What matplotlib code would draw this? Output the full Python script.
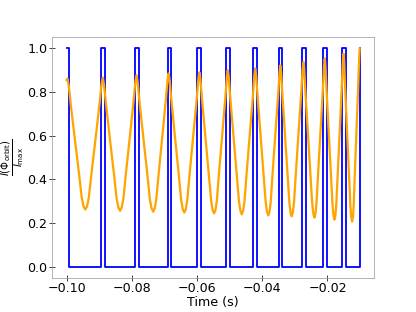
import matplotlib
matplotlib.use('Agg')
import matplotlib.pyplot as plt

# pulse (high state) edges, ms
pulse_on_ms = [-100.00, -89.54, -78.89, -68.92, -59.91, -51.08, -42.77, -34.98, -27.82, -21.23, -15.51]
pulse_off_ms = [-99.20, -88.31, -77.85, -67.91, -58.77, -49.91, -41.54, -33.85, -26.68, -20.22, -14.46]
last_rise_ms = -10.10

# normalised intensity curve
orbit_t_ms = [
    -100.00, -99.75, -99.37, -98.77, -97.56, -96.33, -95.37, -94.83,
    -94.28, -93.74, -93.21, -92.27, -91.06, -89.89, -89.30,
    -88.92, -88.55, -87.96, -86.79, -85.60, -84.66, -84.13,
    -83.60, -83.10, -82.60, -81.72, -80.59, -79.48, -78.93,
    -78.58, -78.22, -77.66, -76.53, -75.37, -74.48, -73.96,
    -73.45, -72.98, -72.51, -71.68, -70.62, -69.59, -69.07,
    -68.74, -68.40, -67.87, -66.81, -65.72, -64.88, -64.39,
    -63.91, -63.45, -62.99, -62.18, -61.14, -60.12, -59.61,
    -59.29, -58.97, -58.48, -57.48, -56.47, -55.67, -55.22,
    -54.77, -54.35, -53.93, -53.20, -52.26, -51.33, -50.87,
    -50.58, -50.28, -49.81, -48.86, -47.89, -47.14, -46.71,
    -46.28, -45.87, -45.45, -44.73, -43.80, -42.89, -42.44,
    -42.15, -41.87, -41.43, -40.55, -39.65, -38.95, -38.55,
    -38.15, -37.78, -37.41, -36.77, -35.94, -35.12, -34.72,
    -34.46, -34.22, -33.83, -33.07, -32.29, -31.68, -31.33,
    -30.98, -30.62, -30.26, -29.63, -28.82, -28.03, -27.63,
    -27.38, -27.14, -26.77, -26.03, -25.27, -24.68, -24.34,
    -24.00, -23.68, -23.37, -22.81, -22.10, -21.40, -21.05,
    -20.83, -20.62, -20.29, -19.64, -18.97, -18.45, -18.15,
    -17.85, -17.57, -17.30, -16.81, -16.19, -15.58, -15.27,
    -15.08, -14.89, -14.60, -14.02, -13.42, -12.96, -12.70,
    -12.43, -12.20, -11.96, -11.56, -11.03, -10.52, -10.26,
    -10.10,
]
orbit_I = [
    0.855, 0.861, 0.831, 0.746, 0.593, 0.442, 0.316, 0.277,
    0.262, 0.277, 0.316, 0.443, 0.596, 0.750, 0.836,
    0.866, 0.836, 0.749, 0.593, 0.439, 0.311, 0.271,
    0.256, 0.272, 0.312, 0.442, 0.599, 0.758, 0.846,
    0.877, 0.846, 0.757, 0.598, 0.440, 0.308, 0.268,
    0.252, 0.268, 0.309, 0.442, 0.602, 0.763, 0.853,
    0.885, 0.853, 0.763, 0.600, 0.439, 0.305, 0.264,
    0.248, 0.264, 0.306, 0.441, 0.603, 0.767, 0.858,
    0.890, 0.858, 0.766, 0.601, 0.438, 0.302, 0.260,
    0.244, 0.260, 0.303, 0.441, 0.607, 0.774, 0.867,
    0.900, 0.867, 0.773, 0.605, 0.438, 0.299, 0.257,
    0.240, 0.257, 0.300, 0.440, 0.609, 0.780, 0.875,
    0.908, 0.874, 0.779, 0.607, 0.437, 0.296, 0.252,
    0.235, 0.252, 0.297, 0.441, 0.615, 0.790, 0.888,
    0.922, 0.887, 0.789, 0.613, 0.438, 0.293, 0.248,
    0.231, 0.249, 0.295, 0.443, 0.622, 0.802, 0.903,
    0.938, 0.902, 0.801, 0.619, 0.439, 0.289, 0.243,
    0.225, 0.243, 0.291, 0.444, 0.628, 0.814, 0.918,
    0.954, 0.917, 0.812, 0.624, 0.437, 0.282, 0.234,
    0.216, 0.235, 0.284, 0.444, 0.636, 0.830, 0.938,
    0.976, 0.938, 0.828, 0.632, 0.438, 0.276, 0.226,
    0.207, 0.227, 0.278, 0.445, 0.646, 0.848, 0.960,
    1.000,
]

# square wave from the pulse edges
sq_t, sq_y = [], []
for on, off in zip(pulse_on_ms, pulse_off_ms):
    sq_t += [on, on, off, off]
    sq_y += [0, 1, 1, 0]
sq_t = sq_t[1:] + [last_rise_ms, last_rise_ms]
sq_y = sq_y[1:] + [0, 1]

fig, ax = plt.subplots(figsize=(6.4, 4.8), dpi=65)
ax.plot([t / 1000 for t in sq_t], sq_y, color='b', lw=2)
ax.plot([t / 1000 for t in orbit_t_ms], orbit_I, color='orange', lw=2.5)

ax.set_xlabel('Time (s)', fontsize=14, labelpad=1)
ax.set_ylabel(r'$\frac{I(\Phi_{\rm orbit})}{I_{\rm max}}$', fontsize=16, labelpad=0)
ax.tick_params(labelsize=14, direction='inout', length=6, pad=2)
for sp in ax.spines.values():
    sp.set_color('0.6')

fig.savefig('out.png')
